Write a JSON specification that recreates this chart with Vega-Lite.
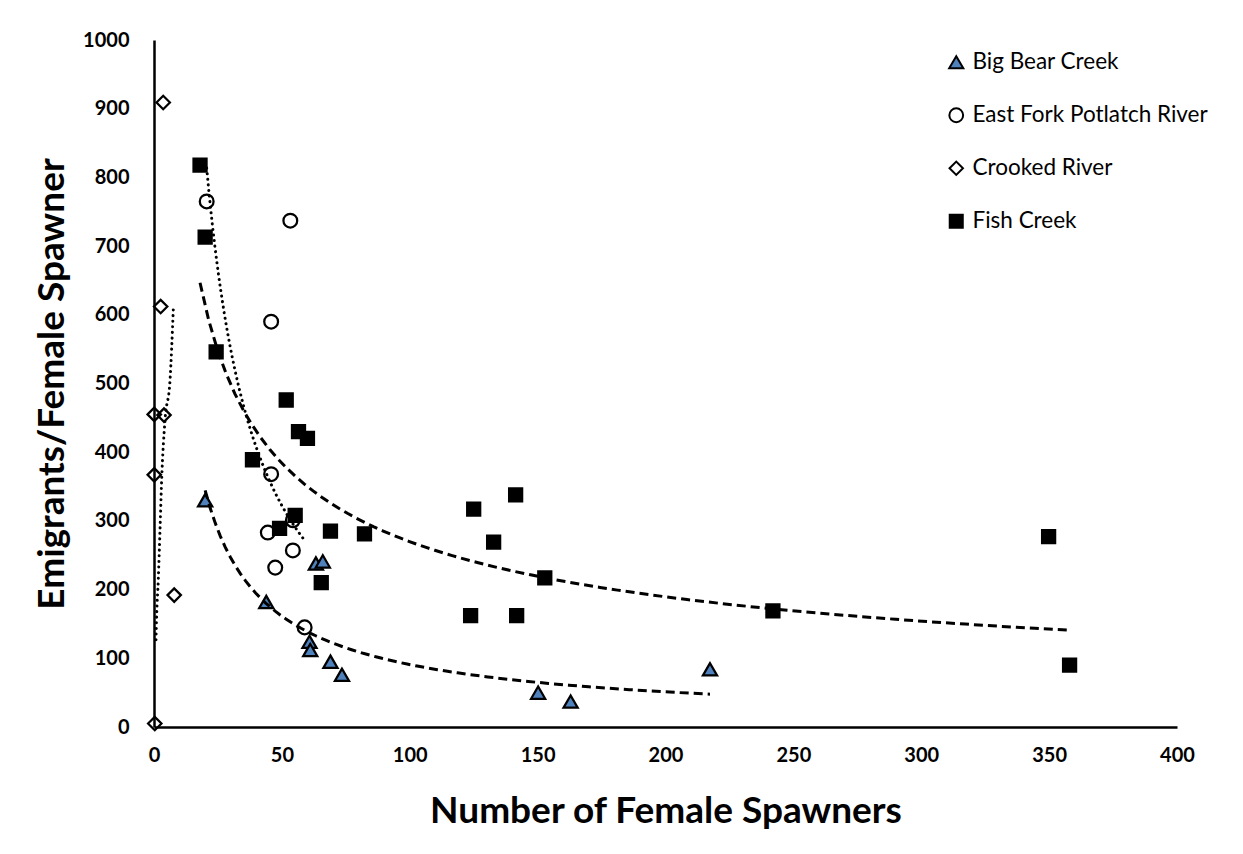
{
  "$schema": "https://vega.github.io/schema/vega-lite/v6.json",
  "width": 1023,
  "height": 687,
  "autosize": "none",
  "padding": {"left": 154, "top": 40, "right": 66, "bottom": 127},
  "background": "white",
  "config": {
    "view": {"stroke": null},
    "axis": {
      "domainColor": "black",
      "domainWidth": 2.5,
      "ticks": false,
      "grid": false,
      "labelFlush": false,
      "labelFont": "Lato",
      "labelFontWeight": "bold",
      "labelFontSize": 20,
      "labelColor": "black",
      "titleFont": "Lato",
      "titleFontWeight": "bold",
      "titleFontSize": 37,
      "titleColor": "black"
    },
    "legend": {
      "labelFont": "Lato",
      "labelFontSize": 22.5,
      "labelColor": "black",
      "labelLimit": 400,
      "symbolStrokeColor": "black",
      "symbolStrokeWidth": 2,
      "rowPadding": 30,
      "labelOffset": 5,
      "padding": 0
    }
  },
  "datasets": {
    "pts": [
      {"series": "Big Bear Creek", "x": 20.0, "y": 330},
      {"series": "Big Bear Creek", "x": 43.9, "y": 182},
      {"series": "Big Bear Creek", "x": 60.8, "y": 124},
      {"series": "Big Bear Creek", "x": 61.1, "y": 112},
      {"series": "Big Bear Creek", "x": 69.0, "y": 95},
      {"series": "Big Bear Creek", "x": 73.5, "y": 76},
      {"series": "Big Bear Creek", "x": 63.3, "y": 238},
      {"series": "Big Bear Creek", "x": 66.0, "y": 241},
      {"series": "Big Bear Creek", "x": 150.2, "y": 50},
      {"series": "Big Bear Creek", "x": 162.9, "y": 37},
      {"series": "Big Bear Creek", "x": 217.4, "y": 84},
      {"series": "East Fork Potlatch River", "x": 20.6, "y": 765},
      {"series": "East Fork Potlatch River", "x": 53.3, "y": 737},
      {"series": "East Fork Potlatch River", "x": 45.8, "y": 590},
      {"series": "East Fork Potlatch River", "x": 45.8, "y": 368},
      {"series": "East Fork Potlatch River", "x": 44.5, "y": 283},
      {"series": "East Fork Potlatch River", "x": 54.3, "y": 257},
      {"series": "East Fork Potlatch River", "x": 47.4, "y": 232},
      {"series": "East Fork Potlatch River", "x": 58.9, "y": 145},
      {"series": "East Fork Potlatch River", "x": 54.3, "y": 301},
      {"series": "Crooked River", "x": 3.6, "y": 909},
      {"series": "Crooked River", "x": 2.6, "y": 612},
      {"series": "Crooked River", "x": 0.1, "y": 455},
      {"series": "Crooked River", "x": 3.9, "y": 454},
      {"series": "Crooked River", "x": 0.1, "y": 367},
      {"series": "Crooked River", "x": 7.9, "y": 192},
      {"series": "Crooked River", "x": 0.3, "y": 5},
      {"series": "Fish Creek", "x": 18.0, "y": 818},
      {"series": "Fish Creek", "x": 20.0, "y": 713},
      {"series": "Fish Creek", "x": 24.3, "y": 546},
      {"series": "Fish Creek", "x": 38.5, "y": 389},
      {"series": "Fish Creek", "x": 51.7, "y": 476},
      {"series": "Fish Creek", "x": 56.5, "y": 430},
      {"series": "Fish Creek", "x": 60.0, "y": 420},
      {"series": "Fish Creek", "x": 49.1, "y": 289},
      {"series": "Fish Creek", "x": 55.2, "y": 308},
      {"series": "Fish Creek", "x": 69.0, "y": 285},
      {"series": "Fish Creek", "x": 65.4, "y": 210},
      {"series": "Fish Creek", "x": 82.3, "y": 281},
      {"series": "Fish Creek", "x": 125.0, "y": 317},
      {"series": "Fish Creek", "x": 132.8, "y": 269},
      {"series": "Fish Creek", "x": 141.4, "y": 338},
      {"series": "Fish Creek", "x": 152.8, "y": 217},
      {"series": "Fish Creek", "x": 123.8, "y": 162},
      {"series": "Fish Creek", "x": 141.8, "y": 162},
      {"series": "Fish Creek", "x": 242.0, "y": 169},
      {"series": "Fish Creek", "x": 349.8, "y": 277},
      {"series": "Fish Creek", "x": 358.0, "y": 90}
    ],
    "crookedTrend": [
      {"series": "Crooked River", "x": 0.78, "y": 127},
      {"series": "Crooked River", "x": 1.06, "y": 165},
      {"series": "Crooked River", "x": 1.68, "y": 214},
      {"series": "Crooked River", "x": 2.35, "y": 287},
      {"series": "Crooked River", "x": 3.0, "y": 360},
      {"series": "Crooked River", "x": 4.31, "y": 447},
      {"series": "Crooked River", "x": 6.27, "y": 505},
      {"series": "Crooked River", "x": 7.56, "y": 609}
    ]
  },
  "encoding": {
    "x": {
      "field": "x",
      "type": "quantitative",
      "scale": {"domain": [0, 400], "nice": false},
      "axis": {
        "title": "Number of Female Spawners",
        "values": [0, 50, 100, 150, 200, 250, 300, 350, 400],
        "format": "d",
        "labelPadding": 18,
        "titlePadding": 28
      }
    },
    "y": {
      "field": "y",
      "type": "quantitative",
      "scale": {"domain": [0, 1000], "nice": false},
      "axis": {
        "title": "Emigrants/Female Spawner",
        "values": [0, 100, 200, 300, 400, 500, 600, 700, 800, 900, 1000],
        "format": "d",
        "labelPadding": 25,
        "titlePadding": 11
      }
    }
  },
  "layer": [
    {
      "data": {"name": "pts"},
      "mark": {"type": "point", "filled": true, "strokeWidth": 2.25, "opacity": 1},
      "encoding": {
        "shape": {
          "field": "series",
          "type": "nominal",
          "scale": {
            "domain": ["Big Bear Creek", "East Fork Potlatch River", "Crooked River", "Fish Creek"],
            "range": ["triangle-up", "circle", "diamond", "square"]
          },
          "legend": {"title": null, "orient": "none", "legendX": 791, "legendY": 11}
        },
        "fill": {
          "field": "series",
          "type": "nominal",
          "scale": {
            "domain": ["Big Bear Creek", "East Fork Potlatch River", "Crooked River", "Fish Creek"],
            "range": ["#4F81BD", "transparent", "transparent", "black"]
          },
          "legend": {"title": null, "orient": "none", "legendX": 791, "legendY": 11}
        },
        "stroke": {
          "field": "series",
          "type": "nominal",
          "scale": {
            "domain": ["Big Bear Creek", "East Fork Potlatch River", "Crooked River", "Fish Creek"],
            "range": ["black", "black", "black", "black"]
          },
          "legend": {"title": null, "orient": "none", "legendX": 791, "legendY": 11}
        },
        "size": {
          "field": "series",
          "type": "nominal",
          "scale": {
            "domain": ["Big Bear Creek", "East Fork Potlatch River", "Crooked River", "Fish Creek"],
            "range": [200, 170, 200, 225]
          },
          "legend": {"title": null, "orient": "none", "legendX": 791, "legendY": 11}
        }
      }
    },
    {
      "data": {"name": "pts"},
      "transform": [
        {"filter": "datum.series === 'Big Bear Creek' || datum.series === 'Fish Creek'"},
        {"regression": "y", "on": "x", "method": "pow", "groupby": ["series"]}
      ],
      "mark": {"type": "line", "color": "black", "strokeWidth": 3, "strokeDash": [9, 5]},
      "encoding": {"detail": {"field": "series", "type": "nominal"}}
    },
    {
      "data": {"name": "pts"},
      "transform": [
        {"filter": "datum.series === 'East Fork Potlatch River'"},
        {"regression": "y", "on": "x", "method": "pow", "groupby": ["series"]}
      ],
      "mark": {"type": "line", "color": "black", "strokeWidth": 3, "strokeDash": [0.1, 5.5], "strokeCap": "round"},
      "encoding": {"detail": {"field": "series", "type": "nominal"}}
    },
    {
      "data": {"name": "crookedTrend"},
      "mark": {"type": "line", "color": "black", "strokeWidth": 3, "strokeDash": [0.1, 5.5], "strokeCap": "round", "interpolate": "monotone"},
      "encoding": {"detail": {"field": "series", "type": "nominal"}}
    }
  ]
}
